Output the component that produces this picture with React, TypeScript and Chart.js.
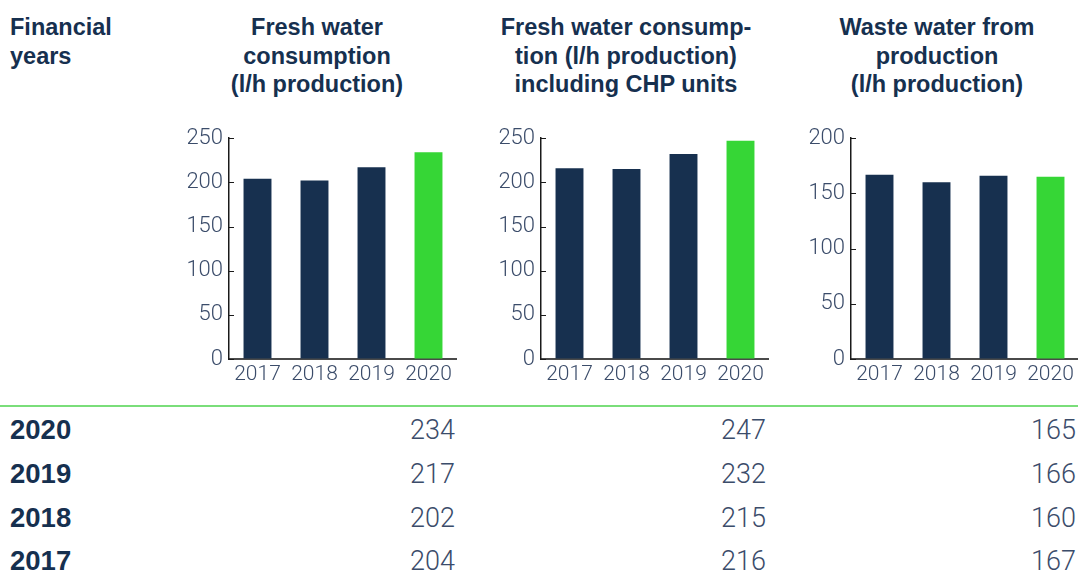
import React, { useEffect, useRef } from 'react';
import { Chart, registerables } from 'chart.js';
Chart.register(...registerables);

const years = ['2017', '2018', '2019', '2020'];
const freshWater = [204, 202, 217, 234];
const freshWaterChp = [216, 215, 232, 247];
const wasteWater = [167, 160, 166, 165];
const yMaxes = [250, 250, 200];
const yStep = 50;
const headerLines = [
  ['Fresh water', 'consumption', '(l/h production)'],
  ['Fresh water consump-', 'tion (l/h production)', 'including CHP units'],
  ['Waste water from', 'production', '(l/h production)'],
];
const leftHeader = ['Financial', 'years'];
const barColors = ['#17304f', '#17304f', '#17304f', '#36d636'];

const NAVY = '#16304f';
const LABEL = '#3b4c6a';
const LIGHT_FONT = 'Roboto, "Liberation Sans", sans-serif';
const BOLD_FONT = '"Liberation Sans", Arial, sans-serif';

const innerTicks = {
  id: 'innerTicks',
  afterDraw(chart: any) {
    const ctx = chart.ctx;
    const y = chart.scales.y;
    const left = chart.chartArea.left;
    ctx.save();
    ctx.strokeStyle = '#1a1a1a';
    ctx.lineWidth = 1;
    y.ticks.forEach((_t: any, i: number) => {
      const py = Math.round(y.getPixelForTick(i)) + 0.5;
      ctx.beginPath();
      ctx.moveTo(left, py);
      ctx.lineTo(left + 5, py);
      ctx.stroke();
    });
    ctx.restore();
  },
};

const Y_W = 60;
const X_H = 40;
const PAD_T = 15;
const EXTRA_T = 3;
const AREA_W = 228;
const AREA_H = 222;
const AREA_TOP = 137;

function BarChart({ values, max, left }: { values: number[]; max: number; left: number }) {
  const ref = useRef<HTMLCanvasElement | null>(null);
  useEffect(() => {
    if (!ref.current) return;
    const chart = new Chart(ref.current, {
      type: 'bar',
      data: {
        labels: years,
        datasets: [
          {
            data: values,
            backgroundColor: barColors,
            borderWidth: 0,
            categoryPercentage: 1,
            barPercentage: 0.49,
          },
        ],
      },
      options: {
        responsive: false,
        animation: false,
        devicePixelRatio: 1,
        layout: { padding: { top: PAD_T, right: 0, left: 0, bottom: 0 } },
        plugins: { legend: { display: false }, tooltip: { enabled: false }, title: { display: false } },
        scales: {
          x: {
            grid: { display: false, drawTicks: false },
            border: { display: true, color: '#4a4a4a', width: 2 },
            ticks: { color: LABEL, font: { family: LIGHT_FONT, size: 21, weight: 300 as any }, padding: 3, maxRotation: 0 },
            afterFit: (s: any) => { s.height = X_H; },
          },
          y: {
            min: 0,
            max,
            ticks: { stepSize: yStep, color: LABEL, font: { family: LIGHT_FONT, size: 22, weight: 300 as any }, padding: 6 },
            grid: { drawOnChartArea: false, drawTicks: false },
            border: { display: true, color: '#1a1a1a', width: 1.5 },
            afterFit: (s: any) => { s.width = Y_W; },
          },
        },
      },
      plugins: [innerTicks],
    });
    return () => chart.destroy();
  }, [values, max]);
  const h = PAD_T + EXTRA_T + AREA_H + X_H;
  return (
    <canvas
      ref={ref}
      width={Y_W + AREA_W}
      height={h}
      style={{ position: 'absolute', left, top: AREA_TOP - PAD_T - EXTRA_T, width: Y_W + AREA_W, height: h }}
    />
  );
}

const chartLefts = [229, 541, 851];
const headerCenters = [317, 626, 937];
const valueRights = [455, 766, 1076];
const rowCenters = [430, 474, 518, 561];
const series = [freshWater, freshWaterChp, wasteWater];

export default function App() {
  const rowsOrder = [3, 2, 1, 0];
  const headStyle = { fontFamily: BOLD_FONT, fontWeight: 700, fontSize: 23.5, lineHeight: '28.5px', color: NAVY } as const;
  return (
    <div style={{ position: 'absolute', left: 0, top: 0, width: 1078, height: 572, overflow: 'hidden', background: '#fff' }}>
      <div style={{ position: 'absolute', left: 10, top: 13, ...headStyle }}>
        {leftHeader.map((l) => <div key={l}>{l}</div>)}
      </div>
      {headerLines.map((lines, i) => (
        <div key={i} style={{ position: 'absolute', left: headerCenters[i] - 170, width: 340, top: 13, textAlign: 'center', ...headStyle }}>
          {lines.map((l) => <div key={l}>{l}</div>)}
        </div>
      ))}
      {series.map((vals, i) => (
        <BarChart key={i} values={vals} max={yMaxes[i]} left={chartLefts[i] - Y_W} />
      ))}
      <div style={{ position: 'absolute', left: 0, top: 405, width: 1078, height: 2, background: '#7ade7a' }} />
      {rowsOrder.map((yi, r) => (
        <React.Fragment key={yi}>
          <div style={{ position: 'absolute', left: 10, top: rowCenters[r] - 22, height: 44, lineHeight: '44px', fontFamily: BOLD_FONT, fontWeight: 700, fontSize: 27.5, color: NAVY }}>
            {years[yi]}
          </div>
          {series.map((vals, c) => (
            <div key={c} style={{ position: 'absolute', left: valueRights[c] - 200, width: 200, textAlign: 'right', top: rowCenters[r] - 22, height: 44, lineHeight: '44px', fontFamily: LIGHT_FONT, fontWeight: 300, fontSize: 27, color: LABEL }}>
              {vals[yi]}
            </div>
          ))}
        </React.Fragment>
      ))}
    </div>
  );
}
